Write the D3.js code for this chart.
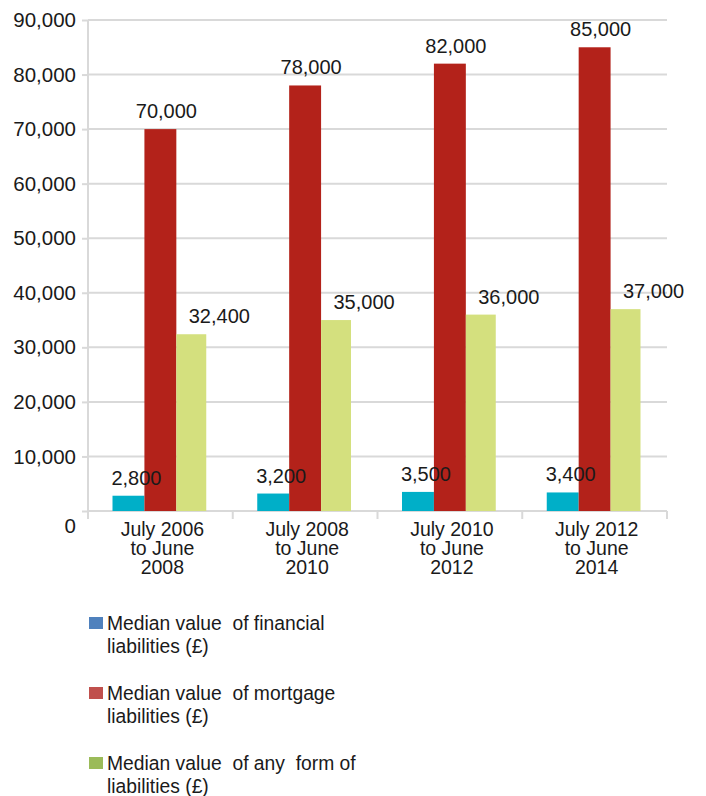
<!DOCTYPE html>
<html lang="en">
<head>
<meta charset="utf-8">
<title>Median value of liabilities</title>
<script src="https://cdn.jsdelivr.net/npm/d3@7"></script>
<style>
  body { margin: 0; background: #fff; }
  svg text { font-family: "Liberation Sans", Arial, Helvetica, sans-serif; fill: #1a1a1a; }
</style>
</head>
<body>
<div id="chart"></div>
<script>

// data
var periods = [
  ["July 2006", "to June", "2008"],
  ["July 2008", "to June", "2010"],
  ["July 2010", "to June", "2012"],
  ["July 2012", "to June", "2014"]
];
var seriesNames = [
  ["Median value  of financial", "liabilities (\u00a3)"],
  ["Median value  of mortgage", "liabilities (\u00a3)"],
  ["Median value  of any  form of", "liabilities (\u00a3)"]
];
var financial = [2800, 3200, 3500, 3400];
var mortgage  = [70000, 78000, 82000, 85000];
var anyForm   = [32400, 35000, 36000, 37000];
var yTicks    = [0, 10000, 20000, 30000, 40000, 50000, 60000, 70000, 80000, 90000];

var series = [financial, mortgage, anyForm];
var barColors    = ["#00afc8", "#b3221a", "#d4e07e"];
var legendColors = ["#4f81bd", "#c0504d", "#9bbb59"];
var labelShift   = [8, 6, 27];

var W = 706, H = 796;
var x0 = 88, x1 = 667, yTop = 20, yBot = 511;

var svg = d3.select("#chart").append("svg")
  .attr("width", W)
  .attr("height", H);

var x = d3.scaleBand()
  .domain(d3.range(periods.length))
  .range([x0, x1]);

var xs = d3.scaleBand()
  .domain(d3.range(series.length))
  .range([24.5, x.bandwidth() - 24.5]);

var y = d3.scaleLinear()
  .domain([0, 90000])
  .range([yBot, yTop]);

/*
 * grid + axes
 */
var gY = svg.append("g")
  .attr("transform", "translate(" + x0 + ",0)")
  .call(d3.axisLeft(y).tickValues(yTicks).tickSize(6).tickPadding(6).tickFormat(d3.format(",")));

gY.select(".domain").remove();
gY.selectAll(".tick line").attr("stroke", "#d9d9d9").attr("stroke-width", 2);
gY.selectAll(".tick text").style("font-size", "20.5px").attr("fill", "#1a1a1a");
gY.select(".tick:first-of-type text").attr("y", 15).attr("x", -12);

svg.append("g").selectAll("line")
  .data(yTicks)
  .join("line")
  .attr("x1", x0).attr("x2", x1)
  .attr("y1", d => y(d)).attr("y2", d => y(d))
  .attr("stroke", "#d9d9d9")
  .attr("stroke-width", 2);

svg.append("line")
  .attr("x1", x0).attr("x2", x0)
  .attr("y1", yTop).attr("y2", yBot + 8)
  .attr("stroke", "#d9d9d9").attr("stroke-width", 2);

// category separators below the axis
svg.append("g").selectAll("line")
  .data(d3.range(periods.length + 1))
  .join("line")
  .attr("x1", i => x0 + i * x.bandwidth())
  .attr("x2", i => x0 + i * x.bandwidth())
  .attr("y1", yBot).attr("y2", yBot + 8)
  .attr("stroke", "#d9d9d9").attr("stroke-width", 2);

/*
 * bars, then labels on top
 */
series.forEach(function(vals, s) {
  svg.append("g").selectAll("rect")
    .data(vals)
    .join("rect")
    .attr("x", (d, i) => x(i) + xs(s))
    .attr("width", xs.bandwidth() - (s == 2 ? 2 : 0))
    .attr("y", d => y(d))
    .attr("height", d => yBot - y(d))
    .attr("fill", barColors[s]);
});

series.forEach(function(vals, s) {
  svg.append("g").selectAll("text")
    .data(vals)
    .join("text")
    .attr("x", (d, i) => x(i) + xs(s) + xs.bandwidth() / 2 + labelShift[s])
    .attr("y", d => y(d) - 11)
    .attr("text-anchor", "middle")
    .style("font-size", "20px")
    .text(d => d3.format(",")(d));
});

// category labels
svg.append("g").selectAll("text")
  .data(periods)
  .join("text")
  .attr("text-anchor", "middle")
  .style("font-size", "19.5px")
  .each(function(lines, i) {
    d3.select(this).selectAll("tspan")
      .data(lines)
      .join("tspan")
      .attr("x", x(i) + x.bandwidth() / 2 + 2)
      .attr("y", (l, k) => 536 + k * 19)
      .text(l => l);
  });

/*
 * legend
 */
var legend = svg.append("g").selectAll("g")
  .data(seriesNames)
  .join("g")
  .attr("transform", (d, i) => "translate(89," + (630 + i * 70) + ")");

legend.append("rect")
  .attr("x", 0).attr("y", -13)
  .attr("width", 14).attr("height", 12)
  .attr("fill", (d, i) => legendColors[i]);

legend.append("text")
  .style("font-size", "19.3px")
  .style("white-space", "pre")
  .selectAll("tspan")
  .data(d => d)
  .join("tspan")
  .attr("x", 18)
  .attr("y", (l, k) => k * 23)
  .text(l => l);

</script>
</body>
</html>
